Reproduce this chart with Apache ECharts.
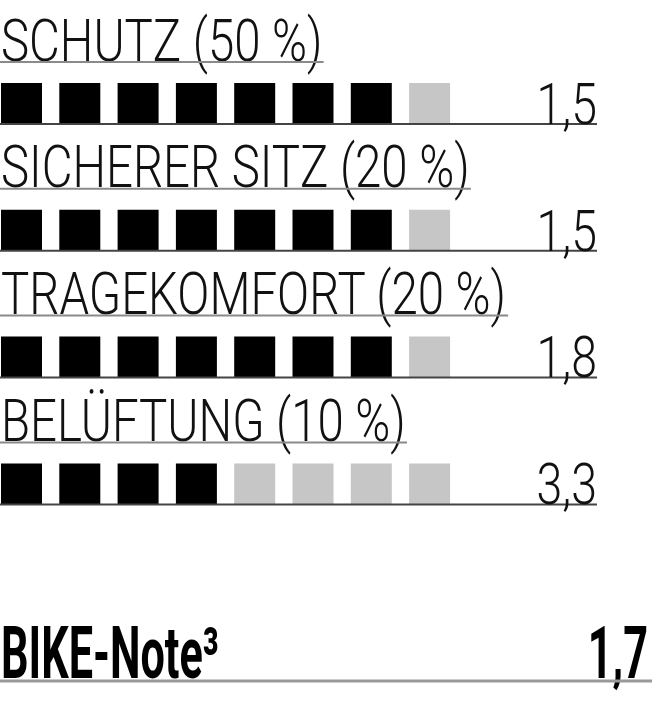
<!DOCTYPE html>
<html>
<head>
<meta charset="utf-8">
<script src="https://cdn.jsdelivr.net/npm/echarts@6/dist/echarts.min.js"></script>
<style>
html, body { margin: 0; padding: 0; background: #fff; }
#chart { width: 652px; height: 720px; }
</style>
</head>
<body>
<div id="chart"></div>
<script>
// Bewertung Helm – Kriterien, Kästchen, Noten
const criteria = ['SCHUTZ (50 %)', 'SICHERER SITZ (20 %)', 'TRAGEKOMFORT (20 %)', 'BELÜFTUNG (10 %)'];
const filledBlocks = [7, 7, 7, 4];
const blocksPerRow = 8;
const grades = [1.5, 1.5, 1.8, 3.3];
const totalLabel = 'BIKE-Note³';
const totalGrade = 1.7;

const titleFont = '300 60px Roboto';
const gradeFont = '300 58px Roboto';
const totalFont = 'bold 72px Roboto';
const squeezeTitle = 0.79;
const squeezeGrade = 0.8;
const squeezeBold = 0.6;
const blockPx = 58.3;       // block pitch in px
const rowPx = 126.8;        // row pitch in px
const lineEnd = (597 - 1) / blockPx;   // end of row lines, in block units
const totalRow = (681 - 124) / rowPx;  // total row, in row units

const ctx = document.createElement('canvas').getContext('2d');
function textWidth(str, font) {
    ctx.font = font;
    return ctx.measureText(str).width;
}
function fmt(v) {
    return v.toFixed(1).replace('.', ',');
}

const blockData = [];
criteria.forEach((c, r) => {
    for (let i = 0; i < blocksPerRow; i++) {
        blockData.push([i, r, i < filledBlocks[r] ? 1 : 0]);
    }
});
const rowData = criteria.map((c, r) => [0, r]);

const chart = echarts.init(document.getElementById('chart'), null, { renderer: 'svg' });

const xMin = -1 / blockPx;
const yMin = -124 / rowPx;

const option = {
    animation: false,
    grid: { left: 0, right: 0, top: 0, bottom: 0 },
    xAxis: { type: 'value', min: xMin, max: xMin + 652 / blockPx, show: false },
    yAxis: { type: 'value', inverse: true, min: yMin, max: yMin + 720 / rowPx, show: false },
    series: [
        {
            type: 'custom',
            name: 'Kästchen',
            data: blockData,
            renderItem: function(params, api) {
                const p = api.coord([api.value(0), api.value(1)]);
                const s = api.size([41 / blockPx, 41 / rowPx]);
                return {
                    type: 'rect',
                    shape: { x: p[0], y: p[1] - s[1], width: s[0], height: s[1] },
                    style: { fill: api.value(2) ? '#000' : '#c6c6c6' }
                };
            }
        },
        {
            type: 'custom',
            name: 'Zeilen',
            data: rowData,
            renderItem: function(params, api) {
                const r = api.value(1);
                const start = api.coord([xMin, r]);
                const end = api.coord([lineEnd, r]);
                const label = criteria[r];
                const w = textWidth(label, titleFont) * squeezeTitle;
                return {
                    type: 'group',
                    children: [
                        {
                            type: 'text', x: start[0] + 1, y: start[1] - 84, scaleX: squeezeTitle,
                            style: { text: label, font: titleFont, fill: '#111', verticalAlign: 'middle' }
                        },
                        {
                            type: 'line',
                            shape: { x1: start[0], y1: start[1] - 62, x2: start[0] + w + 2, y2: start[1] - 62 },
                            style: { stroke: '#8a8a8a', lineWidth: 2 }
                        },
                        {
                            type: 'line',
                            shape: { x1: start[0], y1: start[1], x2: end[0], y2: end[1] },
                            style: { stroke: '#444', lineWidth: 2 }
                        },
                        {
                            type: 'text', x: end[0], y: end[1] - 20, scaleX: squeezeGrade,
                            style: { text: fmt(grades[r]), font: gradeFont, fill: '#111', align: 'right', verticalAlign: 'middle' }
                        }
                    ]
                };
            }
        },
        {
            type: 'custom',
            name: 'Gesamt',
            data: [[0, totalRow]],
            renderItem: function(params, api) {
                const start = api.coord([xMin, api.value(1)]);
                const end = api.coord([xMin + 652 / blockPx, api.value(1)]);
                return {
                    type: 'group',
                    children: [
                        {
                            type: 'text', x: start[0] + 1, y: start[1] - 28, scaleX: squeezeBold,
                            style: { text: totalLabel, font: totalFont, fill: '#000', verticalAlign: 'middle' }
                        },
                        {
                            type: 'text', x: end[0] - 4, y: end[1] - 28, scaleX: squeezeBold,
                            style: { text: fmt(totalGrade), font: totalFont, fill: '#000', align: 'right', verticalAlign: 'middle' }
                        },
                        {
                            type: 'line',
                            shape: { x1: start[0], y1: start[1], x2: end[0], y2: end[1] },
                            style: { stroke: '#999', lineWidth: 3 }
                        }
                    ]
                };
            }
        }
    ]
};

chart.setOption(option);
window.addEventListener('resize', () => chart.resize());
</script>
</body>
</html>
